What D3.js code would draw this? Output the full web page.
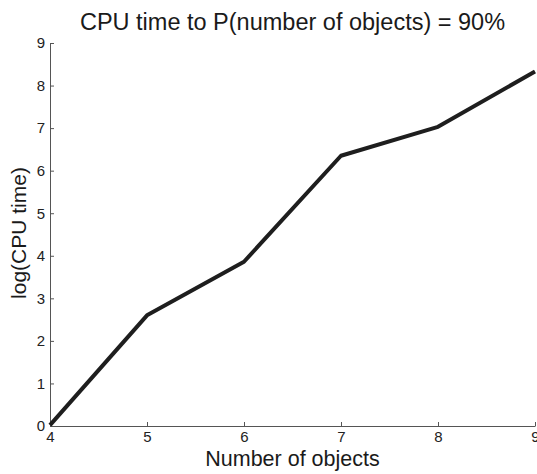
<!DOCTYPE html>
<html>
<head>
<meta charset="utf-8">
<script src="https://cdn.jsdelivr.net/npm/d3@7"></script>
<style>
  body { margin: 0; background: #fff; }
  text { font-family: "Liberation Sans", Arial, sans-serif; }
</style>
</head>
<body>
<div id="chart"></div>
<script>
const objects = [4, 5, 6, 7, 8, 9];
const logCpuTime = [0.02, 2.6, 3.86, 6.35, 7.03, 8.33];
const xTicks = [4, 5, 6, 7, 8, 9];
const yTicks = [0, 1, 2, 3, 4, 5, 6, 7, 8, 9];

const W = 537, H = 474;
const margin = { top: 43, right: 2, bottom: 48, left: 50 };
const width = W - margin.left - margin.right;
const height = H - margin.top - margin.bottom;

const svg = d3.select("#chart").append("svg")
  .attr("width", W)
  .attr("height", H);

const g = svg.append("g")
  .attr("transform", `translate(${margin.left}, ${margin.top})`);

const x = d3.scaleLinear().domain([4, 9]).range([0, width]);
const y = d3.scaleLinear().domain([0, 9]).range([height, 0]);

const xAxis = g.append("g")
  .attr("transform", `translate(0, ${height})`)
  .call(d3.axisBottom(x).tickValues(xTicks).tickFormat(d3.format("d"))
    .tickSizeInner(-4).tickSizeOuter(0).tickPadding(5));

const yAxis = g.append("g")
  .call(d3.axisLeft(y).tickValues(yTicks).tickFormat(d3.format("d"))
    .tickSizeInner(-4).tickSizeOuter(0).tickPadding(5));

[xAxis, yAxis].forEach(a => {
  a.select(".domain").attr("stroke", "#555").attr("stroke-width", 1);
  a.selectAll(".tick line").attr("stroke", "#555");
  a.selectAll(".tick text")
    .attr("fill", "#222")
    .style("font-size", "15px")
    .style("font-family", "'Liberation Sans', Arial, sans-serif");
});

const line = d3.line()
  .x((d, i) => x(objects[i]))
  .y(d => y(d));

g.append("path")
  .datum(logCpuTime)
  .attr("fill", "none")
  .attr("stroke", "#1e1e1e")
  .attr("stroke-width", 4)
  .attr("stroke-linejoin", "round")
  .attr("d", line);

svg.append("text")
  .attr("x", margin.left + width / 2)
  .attr("y", 30)
  .attr("text-anchor", "middle")
  .attr("fill", "#1a1a1a")
  .style("font-size", "23.5px")
  .text("CPU time to P(number of objects) = 90%");

svg.append("text")
  .attr("x", margin.left + width / 2)
  .attr("y", 466)
  .attr("text-anchor", "middle")
  .attr("fill", "#1a1a1a")
  .style("font-size", "21.5px")
  .text("Number of objects");

svg.append("text")
  .attr("transform", `translate(26, 233) rotate(-90)`)
  .attr("text-anchor", "middle")
  .attr("fill", "#1a1a1a")
  .style("font-size", "21px")
  .text("log(CPU time)");
</script>
</body>
</html>
